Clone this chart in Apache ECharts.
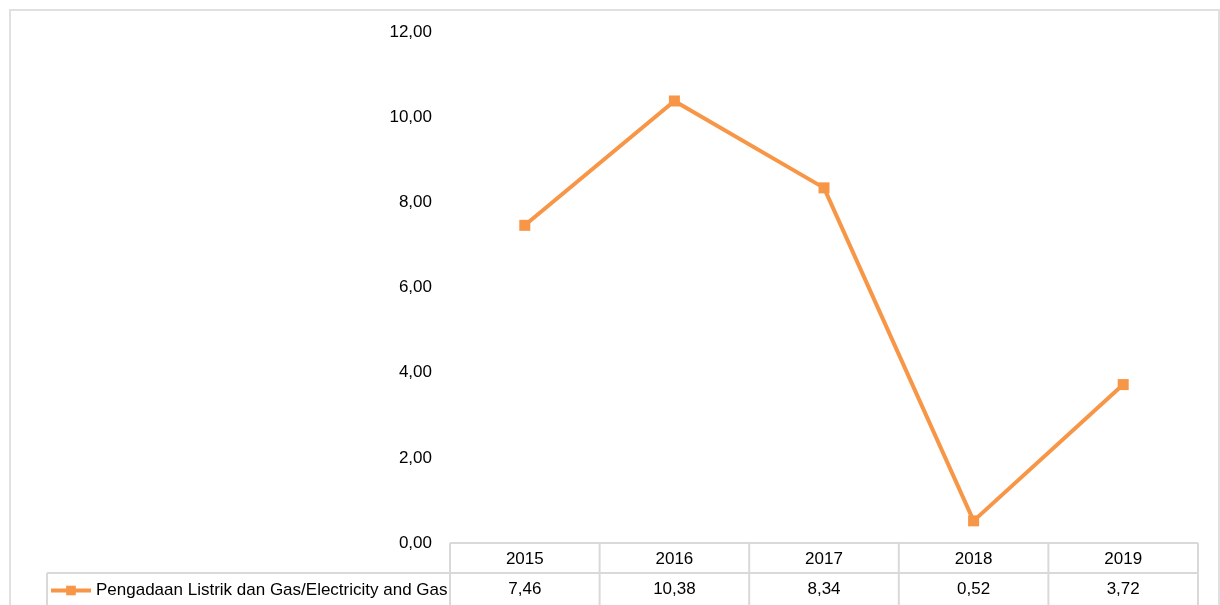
<!DOCTYPE html>
<html>
<head>
<meta charset="utf-8">
<script src="https://cdn.jsdelivr.net/npm/echarts@6/dist/echarts.min.js"></script>
<style>
  html, body { margin: 0; padding: 0; background: #fff; }
  #main { width: 1220px; height: 605px; }
</style>
</head>
<body>
<div id="main"></div>
<script>
// data
var years = ['2015', '2016', '2017', '2018', '2019'];
var values = [7.46, 10.38, 8.34, 0.52, 3.72];
var seriesName = 'Pengadaan Listrik dan Gas/Electricity and Gas';

var font = "'Liberation Sans Narrow', 'Arial Narrow', 'Liberation Sans', sans-serif";
var orange = '#F79646';
var gridCol = '#d9d9d9';

function fmt(v) {
  return v.toFixed(2).replace('.', ',');
}

var gLeft = 450, gRight = 22, gTop = 32, gBottom = 62;
var W = 1220, H = 605;

var chart = echarts.init(document.getElementById('main'));

// table borders
var x0 = gLeft, x1 = W - gRight;
var cw = (x1 - x0) / years.length;
var yHead = H - gBottom, yRow = yHead + 30;
var lines = [];
function ln(ax, ay, bx, by) {
  lines.push({
    type: 'line', silent: true,
    shape: { x1: ax, y1: ay, x2: bx, y2: by },
    style: { stroke: gridCol, lineWidth: 2 }
  });
}
ln(x0, yHead, x1, yHead);
ln(47, yRow, x1, yRow);
ln(47, yRow, 47, H);
for (var i = 0; i <= years.length; i++) {
  ln(x0 + i * cw, yHead, x0 + i * cw, H);
}
// outer frame
lines.push({
  type: 'rect', silent: true,
  shape: { x: 10, y: 10, width: 1209, height: 620 },
  style: { fill: 'none', stroke: '#e0e0e0', lineWidth: 2 }
});

var option = {
  animation: false,
  textStyle: { fontFamily: font },
  grid: { left: gLeft, right: gRight, top: gTop, bottom: gBottom },
  legend: {
    left: 49, top: yRow + 9, padding: 0,
    itemWidth: 40, itemHeight: 12, itemGap: 5,
    lineStyle: { width: 4 },
    textStyle: { fontSize: 17, color: '#000', fontFamily: font, padding: [0, 0, 0, 0] },
    data: [seriesName]
  },
  xAxis: [{
    type: 'category',
    data: years,
    axisLine: { show: false },
    axisTick: { show: false },
    axisLabel: { fontSize: 17, color: '#000', margin: 8, fontFamily: font }
  }, {
    type: 'category',
    position: 'bottom',
    offset: 30,
    data: values.map(fmt),
    axisLine: { show: false },
    axisTick: { show: false },
    axisLabel: { fontSize: 17, color: '#000', margin: 8, fontFamily: font }
  }],
  yAxis: {
    type: 'value',
    min: 0, max: 12, interval: 2,
    axisLine: { show: false },
    axisTick: { show: false },
    splitLine: { show: false },
    axisLabel: {
      fontSize: 17, color: '#000', margin: 18, fontFamily: font,
      formatter: function (v) { return fmt(v); }
    }
  },
  series: [{
    name: seriesName,
    type: 'line',
    data: values,
    symbol: 'rect',
    symbolSize: 11,
    lineStyle: { color: orange, width: 4 },
    itemStyle: { color: orange },
    label: { show: false }
  }],
  graphic: lines
};

chart.setOption(option);
</script>
</body>
</html>
